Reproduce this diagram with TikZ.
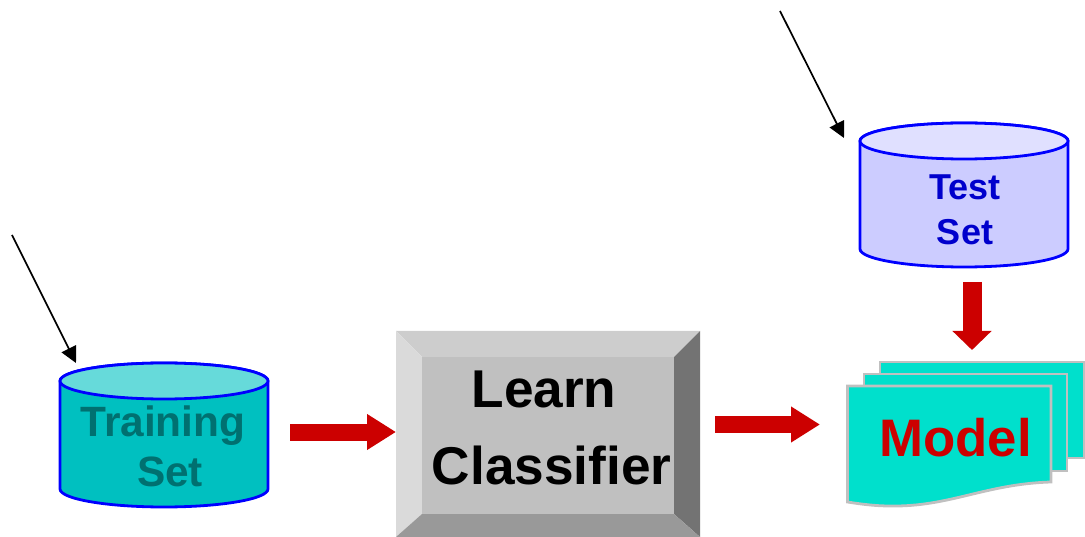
\documentclass[tikz,border=0pt]{standalone}
\usepackage{fontspec}
\setmainfont{Liberation Sans}
\usetikzlibrary{arrows.meta}
\definecolor{cylblue}{HTML}{0000FF}
\definecolor{trainbody}{HTML}{00C0C0}
\definecolor{traintop}{HTML}{66DADA}
\definecolor{traintext}{HTML}{007070}
\definecolor{testbody}{HTML}{CCCCFF}
\definecolor{testtop}{HTML}{E0E0FF}
\definecolor{testtext}{HTML}{0000CC}
\definecolor{flowred}{HTML}{CC0000}
\definecolor{pagefill}{HTML}{00E0CC}
\definecolor{pageedge}{HTML}{C0C0C0}
\tikzset{
  lbl/.style={anchor=base,inner sep=0pt,font=\bfseries},
  cylline/.style={draw=cylblue,line width=2.8pt,line join=round},
  pageshape/.style={draw=pageedge,fill=pagefill,line width=2.8pt,line join=miter},
  thinarrow/.style={draw=black,line width=1.7pt,-{Triangle[length=16pt,width=16pt]}},
  flowh/.style={draw=flowred,line width=17pt,-{Triangle[length=29pt,width=34pt]}},
  flowv/.style={draw=flowred,line width=19pt,-{Triangle[length=19pt,width=38pt]}},
  anchorbox/.style={inner sep=0pt,outer sep=0pt,rectangle}
}
\newcommand{\cyl}[6]{% left right topcentre bottomcentre body top
  \path[cylline,fill=#5] (#1,#3) -- (#1,#4)
     arc[start angle=180,end angle=0,x radius={(#2-#1)/2},y radius=18]
     -- (#2,#3)
     arc[start angle=0,end angle=-180,x radius={(#2-#1)/2},y radius=18] -- cycle;
  \path[cylline,fill=#6] (#1,#3)
     arc[start angle=180,end angle=540,x radius={(#2-#1)/2},y radius=18] -- cycle;
}
\begin{document}
\begin{tikzpicture}[x=1pt,y=-1pt]
\useasboundingbox (0,0) rectangle (1085,537);
% Training set
\cyl{60}{268}{381}{489}{trainbody}{traintop}
\node[lbl,text=traintext,font=\bfseries\fontsize{42.4}{48}\selectfont] (training) at (163,436) {Training};
\node[lbl,text=traintext,font=\bfseries\fontsize{42.4}{48}\selectfont] (trainset) at (170,486) {Set};
% Test set
\cyl{860}{1068}{141}{249}{testbody}{testtop}
\node[lbl,text=testtext,font=\bfseries\fontsize{36}{42}\selectfont] (testword) at (965,200) {Test};
\node[lbl,text=testtext,font=\bfseries\fontsize{36}{42}\selectfont] (testsetword) at (965,244.5) {Set};
% Bevelled box
\node[anchorbox,minimum width=304pt,minimum height=206pt] (learnbox) at (548,434) {};
\fill[white!80.4!black] (396,331) -- (700,331) -- (674,357) -- (422,357) -- cycle;
\fill[white!85.5!black] (396,331) -- (422,357) -- (422,514) -- (396,537) -- cycle;
\fill[white!45!black] (700,331) -- (674,357) -- (674,514) -- (700,537) -- cycle;
\fill[white!60!black] (396,537) -- (422,514) -- (674,514) -- (700,537) -- cycle;
\fill[white!75.3!black] (422,357) rectangle (674,514);
\node[lbl,text=black,font=\bfseries\fontsize{53.2}{60}\selectfont] (learn) at (544,407) {Learn};
\node[lbl,text=black,font=\bfseries\fontsize{53.2}{60}\selectfont] (classifier) at (551.7,484) {Classifier};
% Stack of pages
\path[pageshape] (880,362) -- (1084,362) -- (1084,458) -- (880,458) -- cycle;
\path[pageshape] (864,374) -- (1067,374) -- (1067,471) -- (864,471) -- cycle;
\path[pageshape] (847.5,386) -- (1051,386) -- (1051,482)
   .. controls (985,484) and (950,507) .. (890,506)
   .. controls (875,506) and (860,504) .. (847.5,502) -- cycle;
\node[lbl,text=flowred,font=\bfseries\fontsize{52.8}{60}\selectfont] (model) at (955.5,456) {Model};
% Connectors
\coordinate (inA) at (12,235);
\coordinate (tipA) at (76,363);
\coordinate (inB) at (780,11);
\coordinate (tipB) at (844,138);
\draw[thinarrow] (inA) -- (tipA);
\draw[thinarrow] (inB) -- (tipB);
\coordinate (fromTrain) at (290,432);
\draw[flowh] (fromTrain) -- (learnbox.west |- fromTrain);
\coordinate (fromLearn) at (715,424.5);
\coordinate (toModel) at (820,424.5);
\draw[flowh] (fromLearn) -- (toModel);
\coordinate (fromTest) at (972,282);
\coordinate (toStack) at (972,350);
\draw[flowv] (fromTest) -- (toStack);
\end{tikzpicture}
\end{document}
